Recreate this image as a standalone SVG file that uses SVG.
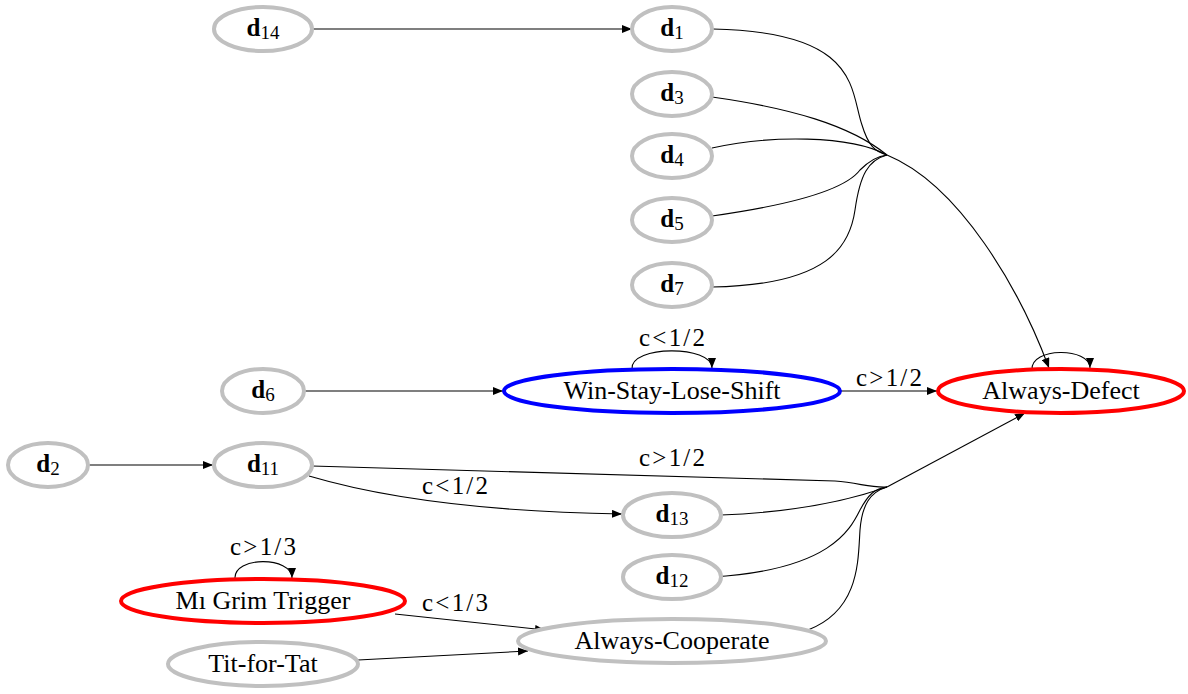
<svg xmlns="http://www.w3.org/2000/svg" width="1188" height="694" viewBox="0 0 1188 694" font-family="'Liberation Serif', 'DejaVu Serif', serif">
<style>
.n{fill:#fff;stroke:#c0c0c0;stroke-width:4}
.r{fill:#fff;stroke:#ff0000;stroke-width:4}
.b{fill:#fff;stroke:#0000ff;stroke-width:4}
text{font-family:'Liberation Serif', serif;fill:#000}
.t{font-size:26px;text-anchor:middle}
.d{font-size:25px;text-anchor:middle}
.dd{font-weight:bold}
.s{font-size:19px}
.l{font-size:25px;text-anchor:middle}
.e{fill:none;stroke:#000;stroke-width:1.1}
</style>
<defs>
<marker id="a" viewBox="0 0 10 8" refX="10" refY="4" markerWidth="10" markerHeight="8" markerUnits="userSpaceOnUse" orient="auto"><path d="M0,0 L10,4 L0,8 z" fill="#000"/></marker>
</defs>
<g id="edges">
<path class="e" d="M312,29 L632,29" marker-end="url(#a)"/>
<path class="e" d="M713,29 C860,32 850,90 862,125 C868,145 875,152 887,155"/>
<path class="e" d="M712,97 C790,108 850,125 887,155"/>
<path class="e" d="M712,148 C770,135 850,135 887,155"/>
<path class="e" d="M712,216 C790,205 845,190 860,170 C870,160 878,156 887,155"/>
<path class="e" d="M712,287 C830,285 850,245 855,210 C860,175 868,160 887,155"/>
<path class="e" d="M887,155 C960,185 1020,290 1049,368" marker-end="url(#a)"/>
<path class="e" d="M1032,370 C1030,347 1090,347 1090,368" marker-end="url(#a)"/>
<path class="e" d="M304,391 L503,391" marker-end="url(#a)"/>
<path class="e" d="M632,369 C630,345 712,345 712,368" marker-end="url(#a)"/>
<path class="e" d="M840,391 L937,391" marker-end="url(#a)"/>
<path class="e" d="M89,465 L213,465" marker-end="url(#a)"/>
<path class="e" d="M312,466 L835,481 C860,483 870,488 887,487"/>
<path class="e" d="M309,476 C390,500 500,512 622,514" marker-end="url(#a)"/>
<path class="e" d="M721,515 C800,512 850,500 887,487"/>
<path class="e" d="M712,577 C830,570 850,530 860,510 C868,495 875,488 887,487"/>
<path class="e" d="M808,630 C860,610 858,560 860,530 C862,505 870,492 887,487"/>
<path class="e" d="M887,487 L1025,413" marker-end="url(#a)"/>
<path class="e" d="M395,614 L545,630" marker-end="url(#a)"/>
<path class="e" d="M235,579 C233,556 292,556 292,578" marker-end="url(#a)"/>
<path class="e" d="M358,660 L528,651" marker-end="url(#a)"/>
</g>
<g id="labels">
<text class="l" x="672" y="346" textLength="66">c&lt;1/2</text>
<text class="l" x="889" y="386" textLength="66">c&gt;1/2</text>
<text class="l" x="672" y="466" textLength="66">c&gt;1/2</text>
<text class="l" x="455" y="494" textLength="66">c&lt;1/2</text>
<text class="l" x="455" y="611" textLength="66">c&lt;1/3</text>
<text class="l" x="263" y="555" textLength="66">c&gt;1/3</text>
</g>
<g id="d14"><ellipse class="n" cx="263" cy="29" rx="49" ry="22"/><text class="d" x="263" y="36"><tspan class="dd">d</tspan><tspan class="s" dy="3">14</tspan></text></g>
<g id="d1"><ellipse class="n" cx="672" cy="29" rx="40" ry="22"/><text class="d" x="672" y="36"><tspan class="dd">d</tspan><tspan class="s" dy="3">1</tspan></text></g>
<g id="d3"><ellipse class="n" cx="672" cy="94" rx="40" ry="22"/><text class="d" x="672" y="101"><tspan class="dd">d</tspan><tspan class="s" dy="3">3</tspan></text></g>
<g id="d4"><ellipse class="n" cx="672" cy="156" rx="40" ry="22"/><text class="d" x="672" y="163"><tspan class="dd">d</tspan><tspan class="s" dy="3">4</tspan></text></g>
<g id="d5"><ellipse class="n" cx="672" cy="220" rx="40" ry="22"/><text class="d" x="672" y="227"><tspan class="dd">d</tspan><tspan class="s" dy="3">5</tspan></text></g>
<g id="d7"><ellipse class="n" cx="672" cy="285" rx="40" ry="22"/><text class="d" x="672" y="292"><tspan class="dd">d</tspan><tspan class="s" dy="3">7</tspan></text></g>
<g id="d6"><ellipse class="n" cx="263" cy="391" rx="41" ry="22"/><text class="d" x="263" y="398"><tspan class="dd">d</tspan><tspan class="s" dy="3">6</tspan></text></g>
<g id="wsls"><ellipse class="b" cx="672" cy="391" rx="168" ry="22"/><text class="t" x="672" y="399">Win-Stay-Lose-Shift</text></g>
<g id="alwaysdefect"><ellipse class="r" cx="1061" cy="391" rx="123" ry="22"/><text class="t" x="1061" y="399">Always-Defect</text></g>
<g id="d2"><ellipse class="n" cx="48" cy="465" rx="40" ry="22"/><text class="d" x="48" y="472"><tspan class="dd">d</tspan><tspan class="s" dy="3">2</tspan></text></g>
<g id="d11"><ellipse class="n" cx="263" cy="465" rx="49" ry="22"/><text class="d" x="263" y="472"><tspan class="dd">d</tspan><tspan class="s" dy="3">11</tspan></text></g>
<g id="d13"><ellipse class="n" cx="672" cy="515" rx="49" ry="22"/><text class="d" x="672" y="522"><tspan class="dd">d</tspan><tspan class="s" dy="3">13</tspan></text></g>
<g id="d12"><ellipse class="n" cx="672" cy="577" rx="49" ry="22"/><text class="d" x="672" y="584"><tspan class="dd">d</tspan><tspan class="s" dy="3">12</tspan></text></g>
<g id="m1grim"><ellipse class="r" cx="263" cy="601" rx="142" ry="22"/><text class="t" x="263" y="609">Mı Grim Trigger</text></g>
<g id="titfortat"><ellipse class="n" cx="263" cy="664" rx="95" ry="22"/><text class="t" x="263" y="672">Tit-for-Tat</text></g>
<g id="alwayscoop"><ellipse class="n" cx="672" cy="641" rx="154" ry="22"/><text class="t" x="672" y="649">Always-Cooperate</text></g>
</svg>
